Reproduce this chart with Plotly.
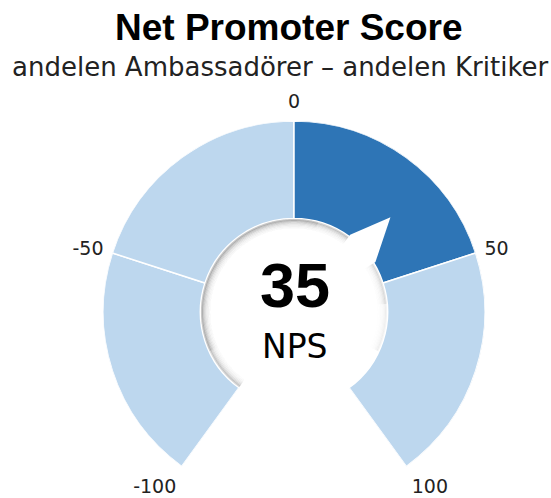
import plotly.graph_objects as go
import numpy as np

# ---- data ----
nps_value = 35
segment_edges = [-100, -50, 0, 50, 100]
segment_colors = ["#BDD7EE", "#BDD7EE", "#2E75B6", "#BDD7EE"]
tick_values = [-100, -50, 0, 50, 100]
tick_labels = ["-100", "-50", "0", "50", "100"]
title_text = "Net Promoter Score"
subtitle_text = "andelen Ambassadörer – andelen Kritiker"
center_label = "NPS"

# ---- scale: gauge value -> angle (degrees clockwise from top) ----
DEG_PER_UNIT = 1.44
POINTER_DEG_PER_UNIT = 1.3
HOLE = 0.49

def to_deg(v):
    return v * DEG_PER_UNIT

fig = go.Figure()

# gauge segments
for a, b, c in zip(segment_edges[:-1], segment_edges[1:], segment_colors):
    fig.add_trace(go.Barpolar(
        r=[1 - HOLE], base=[HOLE],
        theta=[to_deg((a + b) / 2)], width=[to_deg(b) - to_deg(a)],
        marker=dict(color=c, line=dict(color="white", width=1.5)),
        hoverinfo="skip", showlegend=False,
    ))

# outer drop shadow (soft, right/bottom side)
for lo, hi, op in [(20, 145, 0.10), (45, 145, 0.12), (75, 143, 0.14)]:
    th = np.linspace(lo, hi, 150)
    for k in range(4):
        fig.add_trace(go.Scatterpolar(
            r=np.full_like(th, 1 + 0.006 + 0.005 * k), theta=th, mode="lines",
            line=dict(color=f"rgba(60,60,60,{op * np.exp(-k / 1.5):.3f})", width=1.5),
            hoverinfo="skip", showlegend=False,
        ))

# inner hole shadow (soft gradient, strongest at top-left)
for lo, hi, op in [(-215, 115, 0.05), (-185, 85, 0.07), (-150, 50, 0.09), (-115, 15, 0.09)]:
    th = np.linspace(lo, hi, 220)
    for k in range(8):
        fig.add_trace(go.Scatterpolar(
            r=np.full_like(th, HOLE - 0.008 - 0.006 * k), theta=th, mode="lines",
            line=dict(color=f"rgba(60,60,60,{op * np.exp(-k / 2.5):.3f})", width=2),
            hoverinfo="skip", showlegend=False,
        ))

# pointer (white triangle)
p = nps_value * POINTER_DEG_PER_UNIT
fig.add_trace(go.Scatterpolar(
    r=[0.0, HOLE + 0.01, 0.708, HOLE + 0.01, 0.0],
    theta=[p - 9.5, p - 9.5, p, p + 13, p + 13],
    mode="lines", fill="toself", fillcolor="white",
    line=dict(color="white", width=0),
    hoverinfo="skip", showlegend=False,
))

R = 191.0
CX, TOP = 294.0, 121.0
fig.update_layout(
    width=551, height=498,
    margin=dict(l=0, r=0, t=0, b=0),
    paper_bgcolor="white", plot_bgcolor="white",
    polar=dict(
        domain=dict(x=[(CX - R) / 551, (CX + R) / 551],
                    y=[1 - (TOP + 1.809 * R) / 498, 1 - TOP / 498]),
        sector=[-54, 234],
        bgcolor="rgba(0,0,0,0)",
        radialaxis=dict(visible=False, range=[0, 1]),
        angularaxis=dict(
            direction="clockwise", rotation=90,
            tickvals=[to_deg(v) for v in tick_values],
            ticktext=tick_labels,
            showgrid=False, showline=False,
            ticks="outside", ticklen=5, tickcolor="rgba(0,0,0,0)",
            tickfont=dict(family="DejaVu Sans", size=19, color="#222"),
        ),
    ),
    annotations=[
        dict(text=f"<b>{title_text}</b>", x=288.5 / 551, y=1 - 27 / 498, xref="paper", yref="paper",
             showarrow=False, font=dict(family="Liberation Sans", size=37, color="black"),
             xanchor="center", yanchor="middle"),
        dict(text=subtitle_text, x=280 / 551, y=1 - 67 / 498, xref="paper", yref="paper",
             showarrow=False, font=dict(family="DejaVu Sans", size=26, color="#222"),
             xanchor="center", yanchor="middle"),
        dict(text=f"<b>{nps_value}</b>", x=295 / 551, y=1 - 285 / 498, xref="paper", yref="paper",
             showarrow=False, font=dict(family="Liberation Sans", size=63, color="black"),
             xanchor="center", yanchor="middle"),
        dict(text=center_label, x=295 / 551, y=1 - 346 / 498, xref="paper", yref="paper",
             showarrow=False, font=dict(family="DejaVu Sans", size=33, color="black"),
             xanchor="center", yanchor="middle"),
    ],
)

fig.write_html("out.html", config={"displayModeBar": False},
               post_script="document.body.style.margin='0px';")
